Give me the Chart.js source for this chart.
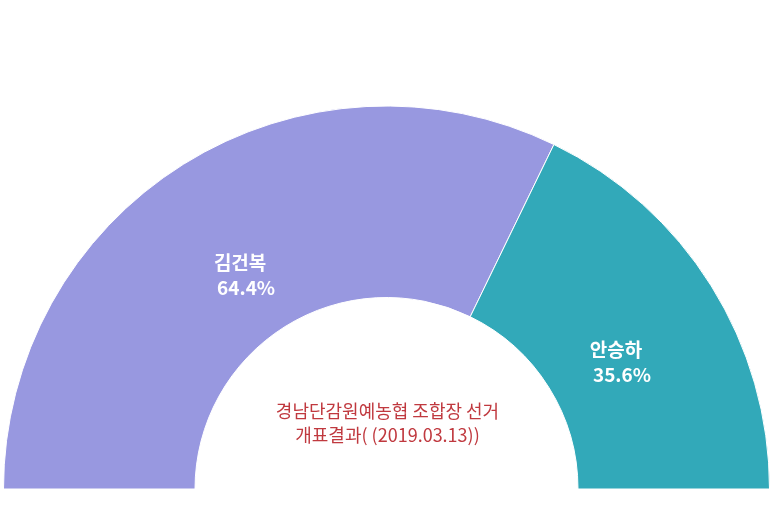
<!DOCTYPE html>
<html>
<head>
<meta charset="utf-8">
<script src="https://cdn.jsdelivr.net/npm/chart.js@4"></script>
<style>
  html, body { margin: 0; padding: 0; background: #fff; }
  #wrap { width: 773px; height: 515px; position: relative; }
</style>
</head>
<body>
<div id="wrap"><canvas id="voteChart"></canvas></div>
<script>
const candidates = ["김건복", "안승하"];
const shares = [64.4, 35.6];
const colors = ["#9898e0", "#32a9b9"];
const titleLines = ["경남단감원예농협 조합장 선거", "개표결과( (2019.03.13))"];

// small nudges of the slice labels off the arc centre point
const labelNudge = [[6, 0], [-14, -4]];

// labels inside each slice + title in the hole
const sliceText = {
  id: "sliceText",
  afterDatasetsDraw(chart) {
    const ctx = chart.ctx;
    const meta = chart.getDatasetMeta(0);
    ctx.save();
    ctx.textAlign = "center";
    ctx.textBaseline = "middle";
    ctx.fillStyle = "#fff";
    ctx.font = "bold 19px 'Noto Sans CJK KR', 'Noto Sans', sans-serif";
    meta.data.forEach((arc, i) => {
      const p = arc.tooltipPosition();
      const x = p.x + labelNudge[i][0], y = p.y + labelNudge[i][1];
      ctx.fillText(candidates[i], x, y + 17);
      ctx.fillText(shares[i].toFixed(1) + "%", x + 6, y + 42);
    });
    const c = meta.data[0];
    ctx.fillStyle = "#c0393f";
    ctx.font = "18px 'Noto Sans CJK KR', 'Noto Sans', sans-serif";
    ctx.fillText(titleLines[0], c.x + 1, c.y - 78);
    ctx.fillText(titleLines[1], c.x + 1, c.y - 54);
    ctx.restore();
  }
};

new Chart(document.getElementById("voteChart"), {
  type: "doughnut",
  data: {
    labels: candidates,
    datasets: [{
      data: shares,
      backgroundColor: colors,
      borderColor: "#fff",
      borderWidth: 1
    }]
  },
  options: {
    responsive: true,
    maintainAspectRatio: false,
    animation: false,
    rotation: -90,
    circumference: 180,
    cutout: "50%",
    layout: { padding: { top: 80, left: 3, right: 3, bottom: 0 } },
    plugins: {
      legend: { display: false },
      tooltip: { enabled: false }
    }
  },
  plugins: [sliceText]
});
</script>
</body>
</html>
